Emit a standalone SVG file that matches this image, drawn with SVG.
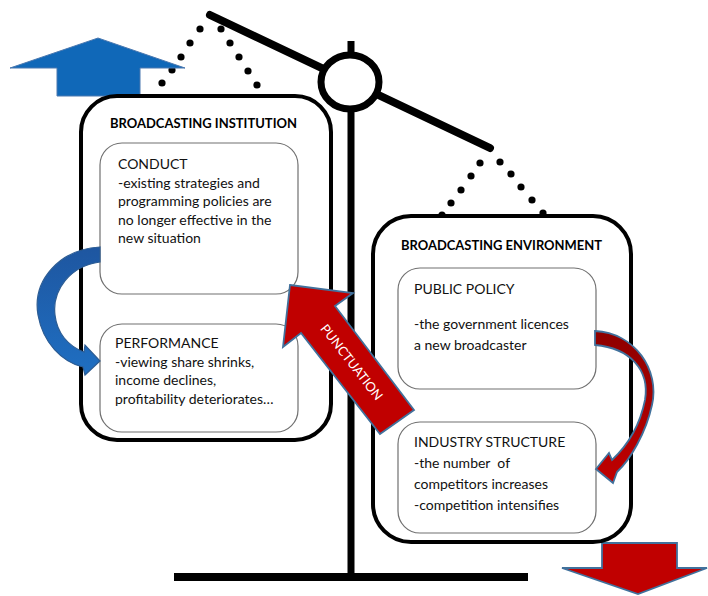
<svg xmlns="http://www.w3.org/2000/svg" width="708" height="596" viewBox="0 0 708 596">
<defs>
<style>
.big{fill:#fff;stroke:#000;stroke-width:4}
.sub{fill:#fff;stroke:#707070;stroke-width:1.2}
.t{font-family:Lato,"Liberation Sans",sans-serif;font-size:14px;fill:#111}
.h{font-family:Lato,"Liberation Sans",sans-serif;font-size:13px;font-weight:bold;fill:#000}
.dot{fill:#000}
.red{fill:#C00000;stroke:#41719C;stroke-width:1.8;stroke-linejoin:miter}
</style>
<linearGradient id="bg" x1="0" y1="0" x2="0" y2="1">
<stop offset="0" stop-color="#1E56A0"/><stop offset="1" stop-color="#1F6FC2"/>
</linearGradient>
<linearGradient id="rg" x1="0" y1="0" x2="0" y2="1">
<stop offset="0" stop-color="#8E0000"/><stop offset="1" stop-color="#C00000"/>
</linearGradient>
</defs>
<rect width="708" height="596" fill="#fff"/>

<g id="scale">
<line x1="351" y1="41" x2="351" y2="577" stroke="#000" stroke-width="7"/>
<line x1="174" y1="577" x2="528" y2="577" stroke="#000" stroke-width="8"/>
<line x1="210" y1="15" x2="490" y2="148" stroke="#000" stroke-width="8" stroke-linecap="round"/>
<ellipse cx="350" cy="82" rx="29" ry="27" fill="#fff" stroke="#000" stroke-width="7"/>
<g class="dot">
<circle cx="200" cy="29" r="3.6"/><circle cx="190" cy="43" r="3.6"/><circle cx="181" cy="57" r="3.6"/><circle cx="172" cy="70" r="3.6"/><circle cx="162" cy="83" r="3.6"/>
<circle cx="221" cy="29" r="3.6"/><circle cx="230" cy="43" r="3.6"/><circle cx="239" cy="57" r="3.6"/><circle cx="248" cy="71" r="3.6"/><circle cx="257" cy="85" r="3.6"/>
<circle cx="480" cy="163" r="3.6"/><circle cx="471" cy="176" r="3.6"/><circle cx="461" cy="190" r="3.6"/><circle cx="451" cy="203" r="3.6"/><circle cx="442" cy="215" r="3.6"/>
<circle cx="500" cy="162" r="3.6"/><circle cx="511" cy="174" r="3.6"/><circle cx="521" cy="187" r="3.6"/><circle cx="532" cy="200" r="3.6"/><circle cx="543" cy="213" r="3.6"/>
</g>
</g>

<g id="arrow-up">
<polygon points="98,38 185,68 140,68 140,96 57,96 57,68 10,68" fill="#1068B8" stroke="#4A78B0" stroke-width="1"/>
</g>
<g id="arrow-down">
<polygon points="602,543 677,543 677,568 707,568 638,594 562,568 602,568" class="red"/>
</g>

<g id="institution">
<rect x="81" y="96" width="250" height="344" rx="36" class="big"/>
<text x="110" y="128" class="h" textLength="187" lengthAdjust="spacingAndGlyphs">BROADCASTING INSTITUTION</text>
</g>
<g id="conduct">
<rect x="100" y="143" width="198" height="151" rx="22" class="sub"/>
<text class="t"><tspan x="118" y="169">CONDUCT</tspan><tspan x="118" y="188">-existing strategies and</tspan><tspan x="118" y="206">programming policies are</tspan><tspan x="118" y="225">no longer effective in the</tspan><tspan x="118" y="243">new situation</tspan></text>
</g>
<g id="performance">
<rect x="100" y="324" width="198" height="108" rx="22" class="sub"/>
<text class="t"><tspan x="115" y="348">PERFORMANCE</tspan><tspan x="115" y="367">-viewing share shrinks,</tspan><tspan x="115" y="385">income declines,</tspan><tspan x="115" y="404">profitability deteriorates…</tspan></text>
</g>

<g id="environment">
<rect x="373" y="216" width="258" height="326" rx="38" class="big"/>
<text x="401" y="250" class="h" textLength="201" lengthAdjust="spacingAndGlyphs">BROADCASTING ENVIRONMENT</text>
</g>
<g id="public-policy">
<rect x="398" y="268" width="198" height="121" rx="22" class="sub"/>
<text class="t"><tspan x="414" y="294">PUBLIC POLICY</tspan><tspan x="414" y="329">-the government licences</tspan><tspan x="414" y="350">a new broadcaster</tspan></text>
</g>
<g id="industry-structure">
<rect x="398" y="422" width="198" height="111" rx="22" class="sub"/>
<text class="t"><tspan x="414" y="447">INDUSTRY STRUCTURE</tspan><tspan x="414" y="468">-the number &#160;of</tspan><tspan x="414" y="489">competitors increases</tspan><tspan x="414" y="510">-competition intensifies</tspan></text>
</g>

<g id="connectors">
<path d="M100,247 C60,249 32,280 38,315 C43,343 62,362 83,367 L85,375 L100,361 L85,345 L84,352 C68,346 57,333 55,315 C52,290 70,266 100,262 Z" fill="url(#bg)" stroke="#2C5C93" stroke-width="1.2"/>
<path d="M595,331 C635,333 660,370 652,405 C646,433 630,460 617,472 L613,483 L596,469 L609,453 L612,460 C628,445 640,425 645,400 C650,370 630,348 595,345 Z" fill="url(#rg)" stroke="#41719C" stroke-width="1.8"/>
<g id="punctuation">
<polygon points="290,285 353,293 335,306 414,410 380,434 301,333 283,347" class="red"/>
<text x="0" y="0" transform="translate(352,362) rotate(52.2)" text-anchor="middle" dominant-baseline="central" font-family="Lato,'Liberation Sans',sans-serif" font-size="13" fill="#fff" textLength="92" lengthAdjust="spacingAndGlyphs">PUNCTUATION</text>
</g>
</g>
</svg>
